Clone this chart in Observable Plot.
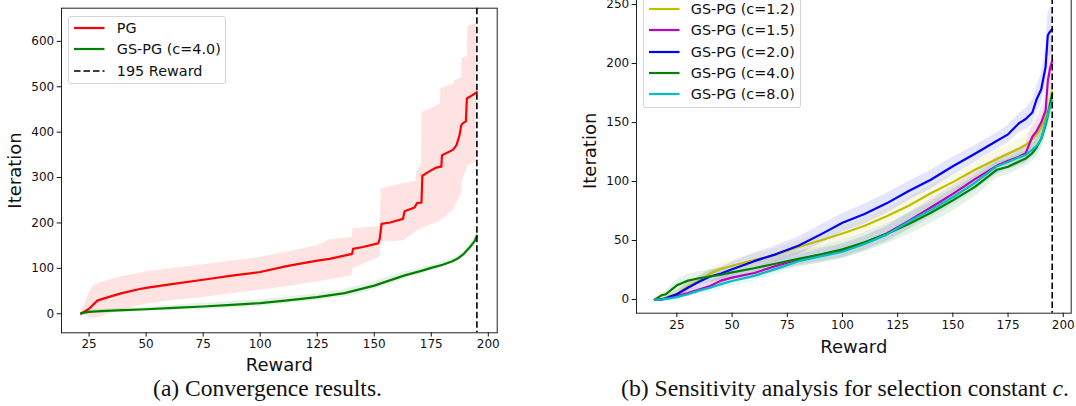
<!DOCTYPE html>
<html><head><meta charset="utf-8">
<script src="https://cdn.jsdelivr.net/npm/d3@7"></script>
<script src="https://cdn.jsdelivr.net/npm/@observablehq/plot@0.6"></script>
<style>
html,body{margin:0;padding:0;background:#fff;width:1076px;height:406px;overflow:hidden;position:relative;font-family:"DejaVu Sans",sans-serif;}
.chart{position:absolute;}
.legend{position:absolute;border:1px solid #d4d4d4;border-radius:3px;background:rgba(255,255,255,0.85);font-size:14.4px;color:#111;box-sizing:border-box;}
.item{position:absolute;left:0;height:0;}
.item svg{position:absolute;left:5px;top:-5px;overflow:visible;}
.item span{position:absolute;white-space:nowrap;transform:translateY(-50%);line-height:1;}
.cap{position:absolute;font-family:"Liberation Serif","Times New Roman",serif;white-space:nowrap;color:#111;transform:translate(-50%,-50%);line-height:1;font-size:20px;}
</style></head>
<body>
<div id="left" class="chart" style="left:0;top:0"></div>
<div id="right" class="chart" style="left:540px;top:-20px"></div>
<script>
// ---------- Left chart data: (a) Convergence results ----------
const xTicks = [25, 50, 75, 100, 125, 150, 175, 200];
const yTicksLeft = [0, 100, 200, 300, 400, 500, 600];
const yTicksRight = [0, 50, 100, 150, 200, 250];

const pgX = [21.5,25,28.6,31.6,39,46.7,50,62,75,87.5,100,111.6,125,130.5,140.3,140.7,145,151.7,152.4,153.2,157,162.6,163.3,167.7,168.8,170.7,171.1,173.6,177.2,179.4,179.7,184.5,186,187.4,188.1,188.9,190.2,190.6,192.5,195];
const pgY = [0,11,29,34,45,54,57,66,75,84,92,105,117,121,132,143,147,155,165,198,201,209,226,234,244,245,304,312,322,324,349,361,371,393,415,420,424,474,480,488];

const pgBandX  = [21.5,23,25,27,28.6,32,40,50,62,75,87.5,100,112,125,130.5,140.3,140.7,152.5,153.1,163,168.3,168.5,170.7,171,175,179,179.2,185,185.2,188.3,188.5,190.8,191,195];
const pgBandLo = [0,-5,-9,-11,-9,-4,10,21,29,36,44,52,60,70,75,84,99,125,158,161,180,182,188,189,196,204,205,230,232,265,290,320,326,334];
const pgBandHi = [2,20,45,62,66,72,82,92,100,108,116,124,136,150,163,168,187,192,276,287,292,311,330,444,452,462,496,506,514,520,562,568,633,639];

const gsX  = [21.5,25,30,40,50,62,75,87.5,100,112,125,137,150,163,171,175,180,184,187,189.3,192,194,195];
const gsY  = [1.5,4,6,8,10,13,16,19.5,23.5,29.5,36.5,45.5,62,84,95,101,108,115,123,132,147,160,172];
const gsLo = [0,0,1,3,5,7,9,12,16,22,29,37,53,76,88,95,102,110,118,127,141,153,163];
const gsHi = [3,8,10,12,15,19,23,27,31,37,44,54,71,92,102,107,114,120,128,137,153,167,181];

// ---------- Right chart data: (b) Sensitivity analysis ----------
const rX = [15,18,20,22,25,30,35,40,45,50,60,70,80,90,100,110,120,130,140,150,160,170,175,180,183,186,188,190,192,193,194,195];
const c12 = [0,0.5,1.5,3,5,11,16,22,26,28.6,33.5,38,44.5,50,56,62.5,70.5,79.5,90,99.5,110,119,123.5,128,131,136,140,146,154,160,167,176];
const c12s = [0,1,1.5,2,3,3.5,4,4.5,4.5,5,5,5,5.5,6,6,6.5,6.5,7,7,7,7,7,7.5,8,8,9,9,10,10,11,12,13];
const c15 = [0,0,0.5,1.5,3,5.5,8.5,11.5,16,18.6,22.5,28.5,34,38,41.5,48,56,66.5,78,89.5,102,113.5,117.5,121,124,138,143,150,160,185,196,202];
const c15s = [0,1,1,1.5,2,2.5,3,3.5,4,4,4.5,5,5,5.5,6,6,6.5,7,7,7,7,7,7,7.5,8,10,11,12,13,15,16,17];
const c20 = [0,0,1,2.5,4.5,10,15,19.5,22,25.7,32.5,38.5,45.5,55,65,72.5,81.5,92,101.5,113,123.5,134.5,140,149.5,153,158.5,170,178,197,224,227,229];
const c20s = [0,1,1.5,2,3,4,4.5,5,5.5,6,7,7,7.5,8,8,8.5,8.5,8,8,7.5,7,7,7.5,8,9,10,11,13,16,18,20,20];
const c40 = [0,3.5,4.5,7.5,12,16,18,19.5,21,23,26.5,30.5,34.5,38,42.5,48.5,55.5,64,73.5,84,95.5,110,112.5,117,119.5,124,129,136,148,156,165,174];
const c40s = [0,2,3,4,5,5.5,5.5,5.5,5.5,5.5,6,6,6.5,7,7.5,8,8.5,9,9,9,8.5,7,6.5,6.5,6.5,7,7,8,10,11,12,12];
const c80 = [0,0,0.5,1,2,4.5,7.5,10,13,15.7,20,26,32.5,36.5,40.5,47,55,66,76,86.7,99,113,116.5,120.5,122.5,127,130.5,136,150,157,163,168];
const c80s = [0,1,1,1.5,2,2.5,3,3.5,4,4,4.5,5,5,5.5,6,6,6.5,7,7,7,7,6.5,6.5,6.5,7,7,7.5,8,9,10,11,11];

const seriesNames = ["GS-PG (c=1.2)","GS-PG (c=1.5)","GS-PG (c=2.0)","GS-PG (c=4.0)","GS-PG (c=8.0)"];
const seriesColors = ["#bfbf00","#bf00bf","#0000ff","#008000","#00bfbf"];
const seriesVals = [c12, c15, c20, c40, c80];
const seriesSpread = [c12s, c15s, c20s, c40s, c80s];

const axisStyle = {fontFamily: "DejaVu Sans", fontSize: "12px", color: "#111", background: "transparent", overflow: "visible"};

function labels(dyBottom, dxLeft) {
  return [
    Plot.text(["Reward"], {frameAnchor: "bottom", dy: dyBottom, text: d => d, fontSize: 18, lineAnchor: "middle", textAnchor: "middle", fill: "#111"}),
    Plot.text(["Iteration"], {frameAnchor: "left", dx: dxLeft, rotate: -90, text: d => d, fontSize: 18, lineAnchor: "middle", textAnchor: "middle", fill: "#111"})
  ];
}

const leftPlot = Plot.plot({
  width: 540, height: 406,
  marginLeft: 61, marginRight: 43.3, marginTop: 7.7, marginBottom: 73.7,
  x: {domain: [12.9, 203.9], label: null},
  y: {domain: [-41.9, 673], label: null},
  style: axisStyle,
  marks: [
    Plot.areaY(d3.zip(pgBandX, pgBandLo, pgBandHi), {x: d => d[0], y1: d => d[1], y2: d => d[2], fill: "#ff0000", fillOpacity: 0.11}),
    Plot.areaY(d3.zip(gsX, gsLo, gsHi), {x: d => d[0], y1: d => d[1], y2: d => d[2], fill: "#008000", fillOpacity: 0.1}),
    Plot.line(d3.zip(pgX, pgY), {stroke: "#ff0000", strokeWidth: 2.2}),
    Plot.line(d3.zip(gsX, gsY), {stroke: "#008000", strokeWidth: 2.2}),
    Plot.ruleX([195], {stroke: "#000", strokeWidth: 1.6, strokeDasharray: "6.5,3"}),
    Plot.frame({stroke: "#222", strokeWidth: 1}),
    Plot.axisX({ticks: xTicks, tickSize: 4.3, tickPadding: 2.5, tickFormat: d => String(d), label: null}),
    Plot.axisY({ticks: yTicksLeft, tickSize: 4.3, tickPadding: 3, tickFormat: d => String(d), label: null}),
    ...labels(32.5, -46.5)
  ]
});
document.getElementById("left").appendChild(leftPlot);

const rightMarks = [];
seriesVals.forEach((v, k) => {
  rightMarks.push(Plot.areaY(rX.map((x, i) => [x, v[i] - seriesSpread[k][i], v[i] + seriesSpread[k][i]]),
    {x: d => d[0], y1: d => d[1], y2: d => d[2], fill: seriesColors[k], fillOpacity: 0.1}));
});
seriesVals.forEach((v, k) => {
  rightMarks.push(Plot.line(d3.zip(rX, v), {stroke: seriesColors[k], strokeWidth: 2.2}));
});

const rightPlot = Plot.plot({
  width: 536, height: 426,
  marginLeft: 96, marginRight: 5.3, marginTop: 8, marginBottom: 93.3,
  x: {domain: [6.7, 203.6], label: null},
  y: {domain: [-11.6, 263.6], label: null},
  style: axisStyle,
  marks: [
    ...rightMarks,
    Plot.ruleX([195], {stroke: "#000", strokeWidth: 1.6, strokeDasharray: "6.5,3"}),
    Plot.frame({stroke: "#222", strokeWidth: 1}),
    Plot.axisX({ticks: xTicks, tickSize: 4.3, tickPadding: 2.5, tickFormat: d => String(d), label: null}),
    Plot.axisY({ticks: yTicksRight, tickSize: 4.3, tickPadding: 3, tickFormat: d => String(d), label: null}),
    ...labels(34, -46.4)
  ]
});
document.getElementById("right").appendChild(rightPlot);

// ---------- Legends ----------
function legend(left, top, width, height, items) {
  const box = document.createElement("div");
  box.className = "legend";
  Object.assign(box.style, {left: left + "px", top: top + "px", width: width + "px", height: height + "px"});
  items.forEach(it => {
    const row = document.createElement("div");
    row.className = "item";
    row.style.top = it.y + "px";
    row.innerHTML = `<svg width="31" height="10"><line x1="0" x2="30.5" y1="5" y2="5" stroke="${it.color}" stroke-width="${it.dash ? 1.6 : 2.2}" ${it.dash ? 'stroke-dasharray="6.5,3"' : ""}/></svg><span style="left:${it.tx}px">${it.label}</span>`;
    box.appendChild(row);
  });
  document.body.appendChild(box);
}
legend(68.3, 15.7, 158, 68.5, [
  {label: "PG", color: "#ff0000", y: 11.5, tx: 47.5},
  {label: "GS-PG (c=4.0)", color: "#008000", y: 32.8, tx: 47.5},
  {label: "195 Reward", color: "#000", dash: true, y: 54.5, tx: 47.5}
]);
legend(643.3, -3.7, 158, 111.4, seriesNames.map((n, k) => ({label: n, color: seriesColors[k], y: 11.5 + k * 21.4, tx: 46.5})));

// ---------- Captions ----------
function caption(text, cx, cy, targetW) {
  const d = document.createElement("div");
  d.className = "cap";
  d.innerHTML = text;
  document.body.appendChild(d);
  const w = d.getBoundingClientRect().width;
  d.style.fontSize = (20 * targetW / w).toFixed(2) + "px";
  d.style.left = cx + "px";
  d.style.top = cy + "px";
}
caption("(a) Convergence results.", 267.5, 388.5, 229);
caption("(b) Sensitivity analysis for selection constant <i>c</i>.", 845, 388.5, 448);
</script>
</body></html>
